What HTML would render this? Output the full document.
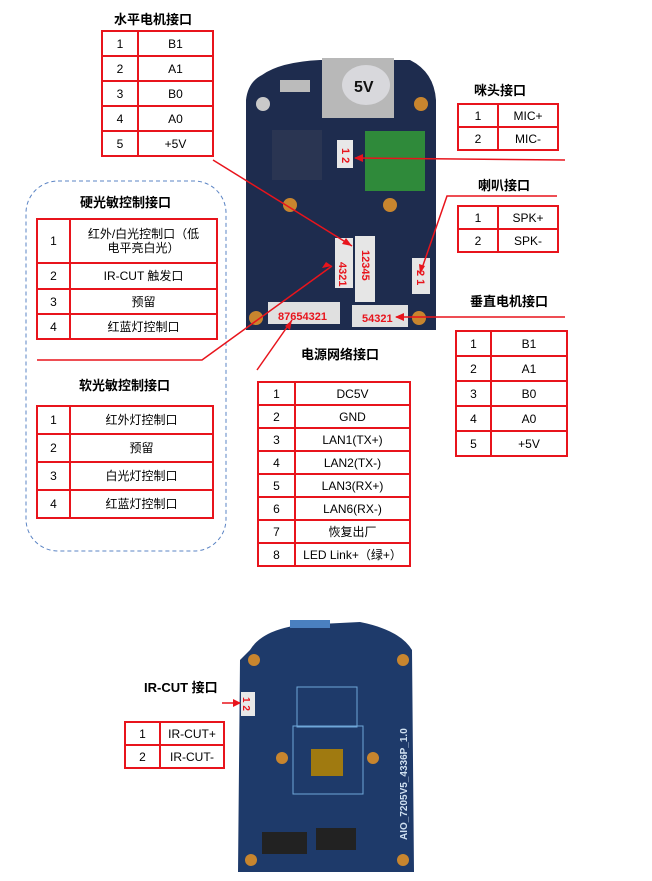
<!DOCTYPE html>
<html><head><meta charset="utf-8"><style>
body{margin:0;width:652px;height:881px;background:#fff;position:relative;overflow:hidden;font-family:"Liberation Sans","Noto Sans CJK SC",sans-serif;}
.t{position:absolute;font-weight:bold;font-size:13px;color:#000;white-space:nowrap}
table{position:absolute;border-collapse:collapse;font-size:12px;color:#000}
td{border:2px solid #e8141c;text-align:center;padding:0;line-height:14px}
svg{position:absolute;left:0;top:0}
</style></head><body>
<svg width="652" height="881">
<rect x="26" y="181" width="200" height="370" rx="32" fill="none" stroke="#5b84c4" stroke-dasharray="4,3"/>
<!-- top board -->
<path d="M262 75 Q280 62 320 60 L410 60 Q434 72 436 100 L436 330 L246 330 L246 100 Q248 82 262 75Z" fill="#1e2c4e"/>
<rect x="322" y="58" width="72" height="60" fill="#b8b8b8"/>
<ellipse cx="366" cy="85" rx="24" ry="20" fill="#d8d8dc"/>
<text x="354" y="92" font-size="16" font-weight="bold" font-family="Liberation Sans" fill="#111">5V</text>
<rect x="280" y="80" width="30" height="12" fill="#bbb"/>
<rect x="272" y="130" width="50" height="50" fill="#2a3552"/>
<rect x="365" y="131" width="60" height="60" fill="#2f8a3a"/>
<rect x="337" y="140" width="16" height="28" fill="#e8e8e8"/>
<rect x="335" y="238" width="18" height="50" fill="#e6e6e6"/>
<rect x="355" y="236" width="20" height="66" fill="#e6e6e6"/>
<rect x="412" y="258" width="18" height="36" fill="#e6e6e6"/>
<rect x="268" y="302" width="72" height="22" fill="#e0e0e0"/>
<rect x="352" y="305" width="56" height="22" fill="#e0e0e0"/>
<circle cx="263" cy="104" r="7" fill="#c9c9c9"/><circle cx="421" cy="104" r="7" fill="#c8852e"/>
<circle cx="290" cy="205" r="7" fill="#c8852e"/><circle cx="390" cy="205" r="7" fill="#c8852e"/>
<circle cx="256" cy="318" r="7" fill="#c8852e"/><circle cx="419" cy="318" r="7" fill="#c8852e"/>
<g fill="#e8141c" font-family="Liberation Sans" font-weight="bold" font-size="11">
<text x="278" y="320">87654321</text><text x="362" y="322">54321</text>
<text transform="translate(342,148) rotate(90)">1 2</text>
<text transform="translate(362,250) rotate(90)">12345</text>
<text transform="translate(339,262) rotate(90)">4321</text>
<text transform="translate(417,270) rotate(90)">2 1</text>
</g>
<!-- bottom board -->
<path d="M250 650 Q262 630 300 625 L360 622 Q400 630 412 650 L414 872 L238 872 L240 660Z" fill="#1e3a6a"/>
<rect x="290" y="620" width="40" height="8" fill="#4a80c0"/>
<rect x="297" y="687" width="60" height="40" fill="none" stroke="#6fa6d8"/>
<rect x="293" y="726" width="70" height="68" fill="none" stroke="#6fa6d8"/>
<rect x="311" y="749" width="32" height="27" fill="#a07a10"/>
<rect x="241" y="692" width="14" height="24" fill="#e8e8e8"/>
<circle cx="254" cy="660" r="6" fill="#c8852e"/><circle cx="403" cy="660" r="6" fill="#c8852e"/>
<circle cx="282" cy="758" r="6" fill="#c8852e"/><circle cx="373" cy="758" r="6" fill="#c8852e"/>
<circle cx="251" cy="860" r="6" fill="#c8852e"/><circle cx="403" cy="860" r="6" fill="#c8852e"/>
<rect x="262" y="832" width="45" height="22" fill="#222"/><rect x="316" y="828" width="40" height="22" fill="#222"/>
<text transform="translate(243,697) rotate(90)" fill="#e8141c" font-family="Liberation Sans" font-weight="bold" font-size="10">1 2</text>
<text transform="translate(407,840) rotate(-90)" fill="#cfe0f0" font-family="Liberation Sans" font-weight="bold" font-size="10">AIO_7205V5_4336P_1.0</text>
<!-- red lines -->
<g stroke="#e8141c" stroke-width="1.5" fill="none">
<polyline points="213,160 352,246"/>
<polyline points="565,160 355,158"/>
<polyline points="37,360 202,360 332,266"/>
<polyline points="257,370 292,320"/>
<polyline points="557,196 447,196 420,274"/>
<polyline points="565,317 396,317"/>
<polyline points="222,703 240,703"/>
</g>
<g fill="#e8141c">
<polygon points="352,246 342,244 346,238"/>
<polygon points="354,158 363,154 363,162"/>
<polygon points="332,266 322,268 326,262"/>
<polygon points="292,320 290,330 285,326"/>
<polygon points="420,274 419,264 425,266"/>
<polygon points="395,317 404,313 404,321"/>
<polygon points="241,703 233,699 233,707"/>
</g>
</svg>
<div class="t" style="left:114px;top:9px">水平电机接口</div>
<div class="t" style="left:474px;top:80px">咪头接口</div>
<div class="t" style="left:478px;top:175px">喇叭接口</div>
<div class="t" style="left:470px;top:291px">垂直电机接口</div>
<div class="t" style="left:301px;top:344px">电源网络接口</div>
<div class="t" style="left:80px;top:192px">硬光敏控制接口</div>
<div class="t" style="left:79px;top:375px">软光敏控制接口</div>
<div class="t" style="left:144px;top:677px">IR-CUT 接口</div>

<table style="left:101px;top:30px;width:113px">
<tr style="height:25px"><td style="width:34px">1</td><td>B1</td></tr>
<tr style="height:25px"><td>2</td><td>A1</td></tr>
<tr style="height:25px"><td>3</td><td>B0</td></tr>
<tr style="height:25px"><td>4</td><td>A0</td></tr>
<tr style="height:25px"><td>5</td><td>+5V</td></tr></table>

<table style="left:457px;top:103px;width:102px">
<tr style="height:23px"><td style="width:38px">1</td><td>MIC+</td></tr>
<tr style="height:23px"><td>2</td><td>MIC-</td></tr></table>

<table style="left:457px;top:205px;width:102px">
<tr style="height:23px"><td style="width:38px">1</td><td>SPK+</td></tr>
<tr style="height:23px"><td>2</td><td>SPK-</td></tr></table>

<table style="left:455px;top:330px;width:113px">
<tr style="height:25px"><td style="width:33px">1</td><td>B1</td></tr>
<tr style="height:25px"><td>2</td><td>A1</td></tr>
<tr style="height:25px"><td>3</td><td>B0</td></tr>
<tr style="height:25px"><td>4</td><td>A0</td></tr>
<tr style="height:25px"><td>5</td><td>+5V</td></tr></table>

<table style="left:257px;top:381px;width:154px">
<tr style="height:23px"><td style="width:35px">1</td><td>DC5V</td></tr>
<tr style="height:23px"><td>2</td><td>GND</td></tr>
<tr style="height:23px"><td>3</td><td>LAN1(TX+)</td></tr>
<tr style="height:23px"><td>4</td><td>LAN2(TX-)</td></tr>
<tr style="height:23px"><td>5</td><td>LAN3(RX+)</td></tr>
<tr style="height:23px"><td>6</td><td>LAN6(RX-)</td></tr>
<tr style="height:23px"><td>7</td><td>恢复出厂</td></tr>
<tr style="height:23px"><td>8</td><td>LED Link+（绿+）</td></tr></table>

<table style="left:36px;top:218px;width:182px">
<tr style="height:44px"><td style="width:31px">1</td><td>红外/白光控制口（低<br>电平亮白光）</td></tr>
<tr style="height:26px"><td>2</td><td>IR-CUT 触发口</td></tr>
<tr style="height:25px"><td>3</td><td>预留</td></tr>
<tr style="height:25px"><td>4</td><td>红蓝灯控制口</td></tr></table>

<table style="left:36px;top:405px;width:178px">
<tr style="height:28px"><td style="width:31px">1</td><td>红外灯控制口</td></tr>
<tr style="height:28px"><td>2</td><td>预留</td></tr>
<tr style="height:28px"><td>3</td><td>白光灯控制口</td></tr>
<tr style="height:28px"><td>4</td><td>红蓝灯控制口</td></tr></table>

<table style="left:124px;top:721px;width:101px">
<tr style="height:23px"><td style="width:33px">1</td><td>IR-CUT+</td></tr>
<tr style="height:23px"><td>2</td><td>IR-CUT-</td></tr></table>
</body></html>
